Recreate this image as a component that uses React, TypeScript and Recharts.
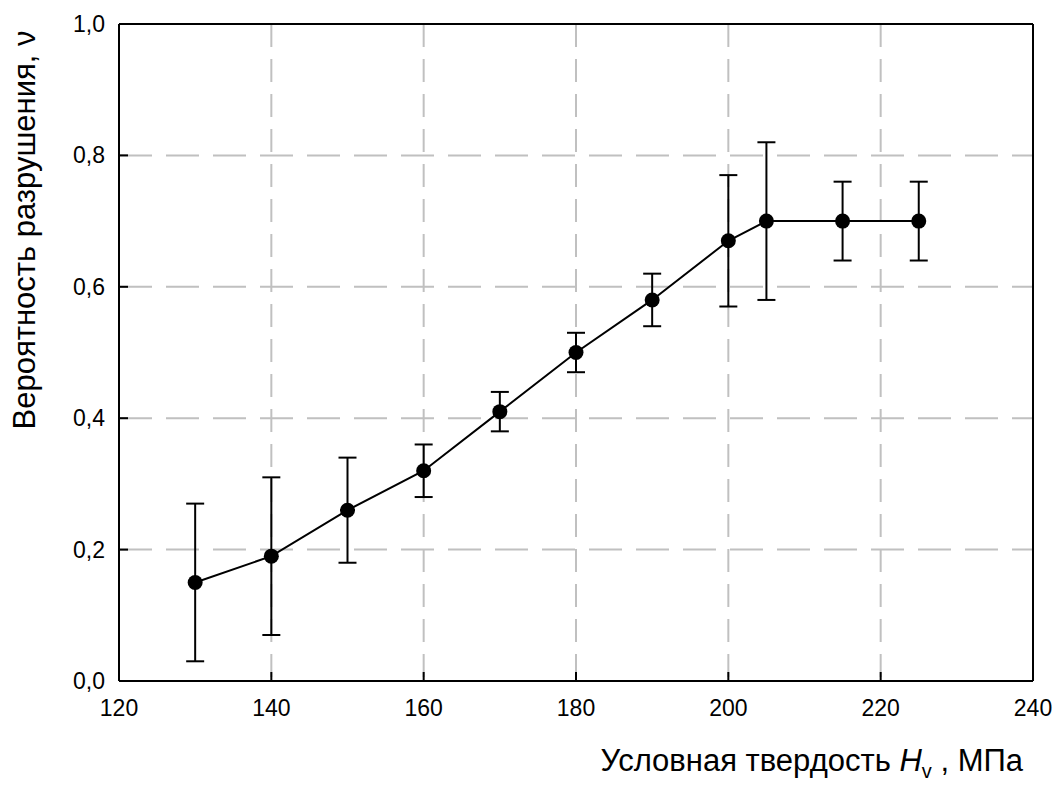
import React from 'react';
import { CartesianGrid, ErrorBar, Line, LineChart, ReferenceLine, XAxis, YAxis } from 'recharts';

const hardness = [130, 140, 150, 160, 170, 180, 190, 200, 205, 215, 225];
const probability = [0.15, 0.19, 0.26, 0.32, 0.41, 0.5, 0.58, 0.67, 0.7, 0.7, 0.7];
const lowerBound = [0.03, 0.07, 0.18, 0.28, 0.38, 0.47, 0.54, 0.57, 0.58, 0.64, 0.64];
const upperBound = [0.27, 0.31, 0.34, 0.36, 0.44, 0.53, 0.62, 0.77, 0.82, 0.76, 0.76];

const xTicks = [120, 140, 160, 180, 200, 220, 240];
const yTicks = [0, 0.2, 0.4, 0.6, 0.8, 1.0];

const data = hardness.map((h, i) => ({
  h,
  v: probability[i],
  err: [probability[i] - lowerBound[i], upperBound[i] - probability[i]],
}));

const FONT = '"Liberation Sans", Arial, sans-serif';

const XTick = (props: any) => {
  const { x, y, payload } = props;
  return (
    <g>
      <line x1={x} y1={y} x2={x} y2={y - 9} stroke="#000" strokeWidth={2} />
      <text x={x} y={y + 35} textAnchor="middle" fontSize={23} fontFamily={FONT} fill="#000">
        {payload.value}
      </text>
    </g>
  );
};

const YTick = (props: any) => {
  const { x, y, payload } = props;
  return (
    <g>
      <line x1={x} y1={y} x2={x + 9} y2={y} stroke="#000" strokeWidth={2} />
      <text x={x - 14} y={y + 8} textAnchor="end" fontSize={23} fontFamily={FONT} fill="#000">
        {payload.value.toFixed(1).replace('.', ',')}
      </text>
    </g>
  );
};

export default function App() {
  return (
    <div style={{ position: 'absolute', left: 0, top: 0, background: '#fff' }}>
      <LineChart width={1056} height={787} data={data} margin={{ top: 24, right: 23, left: 0, bottom: 0 }}>
        <CartesianGrid vertical={false} stroke="#c0c0c0" strokeWidth={2} strokeDasharray="33 14" />
        <CartesianGrid horizontal={false} stroke="#c0c0c0" strokeWidth={2} strokeDasharray="23 12" />
        <XAxis
          dataKey="h"
          type="number"
          domain={[120, 240]}
          ticks={xTicks}
          height={106}
          tickSize={0}
          tickMargin={0}
          tickLine={false}
          tick={<XTick />}
          axisLine={{ stroke: '#000', strokeWidth: 2 }}
        />
        <YAxis
          type="number"
          domain={[0, 1]}
          ticks={yTicks}
          width={119}
          tickSize={0}
          tickMargin={0}
          tickLine={false}
          tick={<YTick />}
          axisLine={{ stroke: '#000', strokeWidth: 2 }}
        />
        <ReferenceLine y={1} stroke="#000" strokeWidth={2} />
        <ReferenceLine x={240} stroke="#000" strokeWidth={2} />
        <Line
          dataKey="v"
          type="linear"
          stroke="#000"
          strokeWidth={2}
          dot={{ r: 7.5, fill: '#000', stroke: '#000', strokeWidth: 0 }}
          isAnimationActive={false}
        >
          <ErrorBar dataKey="err" width={9} stroke="#000" strokeWidth={2} direction="y" />
        </Line>
        <text x={35} y={230} transform="rotate(-90, 35, 230)" textAnchor="middle" fontSize={31} fontFamily={FONT} fill="#000">
          Вероятность разрушения, ν
        </text>
        <text x={1023} y={771} textAnchor="end" fontSize={31} fontFamily={FONT} fill="#000">
          <tspan>Условная твердость </tspan>
          <tspan fontStyle="italic">H</tspan>
          <tspan dy={7} fontSize={20}>v</tspan>
          <tspan dy={-7}> , МПа</tspan>
        </text>
      </LineChart>
    </div>
  );
}
